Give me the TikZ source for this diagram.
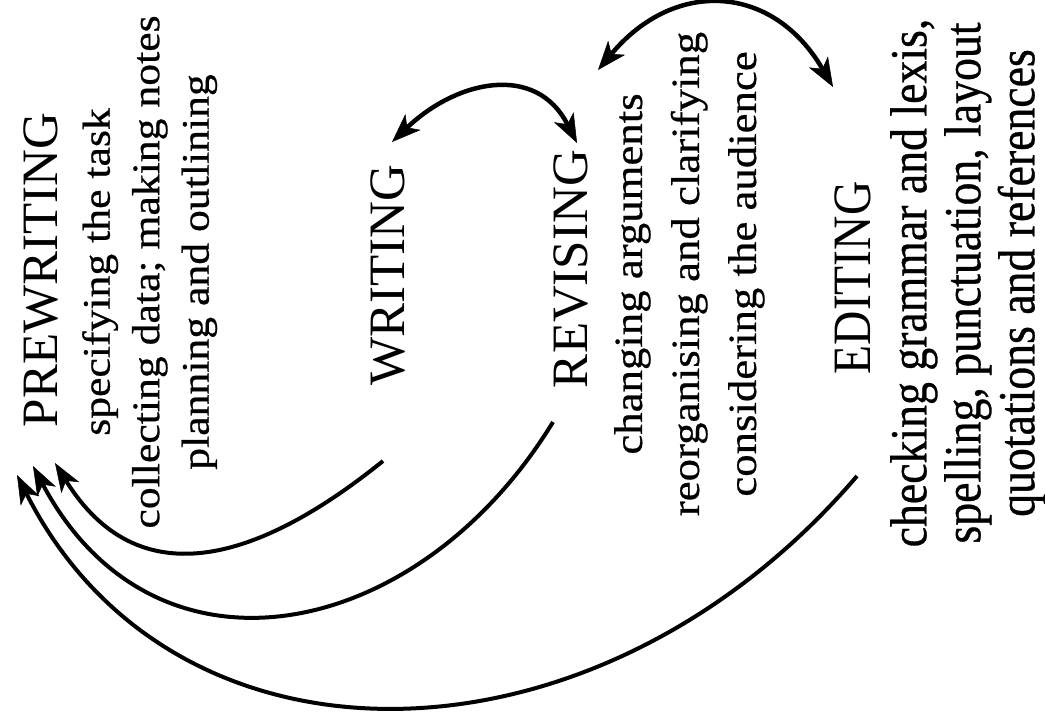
\documentclass[tikz,border=0pt]{standalone}
\usepackage{fontspec}
\setmainfont{Liberation Serif}
\newfontfamily\widefont[FakeStretch=1.12,FakeBold=0.6]{Liberation Serif}
\newfontfamily\narrowfont[FakeStretch=0.88,FakeBold=0.6]{Liberation Serif}
\newfontfamily\narrowheadfont[FakeStretch=0.88]{Liberation Serif}
\usetikzlibrary{arrows.meta}

\begin{document}
\begin{tikzpicture}[x=1pt,y=-1pt,
	stage/.style={rotate=90,anchor=north,inner sep=0pt,font=\fontsize{51}{56}\selectfont},
	notes/.style={rotate=90,anchor=north,inner sep=0pt,align=center},
	feedback/.style={line width=4pt,-{Stealth[length=29pt,width=21pt,inset=8pt,line width=0.5pt]}},
	exchange/.style={line width=4.5pt,{Stealth[length=29pt,width=22pt,inset=8pt,line width=0.5pt]}-{Stealth[length=29pt,width=22pt,inset=8pt,line width=0.5pt]}}]

	\useasboundingbox (0,0) rectangle (1045,713);

	% prewriting
	\node[stage] (prewriting) at (24,270) {PREWRITING};
	\node[notes,font=\widefont\fontsize{39}{49.5}\selectfont] (prewriting-notes) at (82,272)
		{specifying the task\\collecting data; making notes\\planning and outlining};

	% writing
	\node[stage] (writing) at (371,275) {WRITING};

	% revising
	\node[stage] (revising) at (554,269) {REVISING};
	\node[notes,font=\widefont\fontsize{40}{57}\selectfont] (revising-notes) at (614,274)
		{changing arguments\\reorganising and clarifying\\considering the audience};

	% editing
	\node[stage,font=\narrowheadfont\fontsize{54}{56}\selectfont] (editing) at (835,278) {EDITING};
	\node[notes,font=\narrowfont\fontsize{52}{54}\selectfont] (editing-notes) at (890,283)
		{checking grammar and lexis,\\spelling, punctuation, layout\\quotations and references};

	% ends of the arrows
	\coordinate (writing-out) at (383,461);
	\coordinate (revising-out) at (553,422);
	\coordinate (editing-out) at (857,476);
	\coordinate (prewriting-in1) at (55,463);
	\coordinate (prewriting-in2) at (33,466);
	\coordinate (prewriting-in3) at (17,475);
	\coordinate (writing-top) at (392,142);
	\coordinate (revising-top) at (577,143);
	\coordinate (revising-notes-top) at (598,70);
	\coordinate (editing-top) at (833,87);

	% back to prewriting
	\draw[feedback] (writing-out) .. controls +(-129,104) and +(82,132) .. (prewriting-in1);
	\draw[feedback] (revising-out) .. controls +(-135,221) and +(122,229) .. (prewriting-in2);
	\draw[feedback] (editing-out) .. controls +(-260,304) and +(158,312) .. (prewriting-in3);

	% to and fro
	\draw[exchange] (writing-top) .. controls +(65,-62) and +(-41,-80) .. (revising-top);
	\draw[exchange] (revising-notes-top) .. controls +(77,-92) and +(-60,-103) .. (editing-top);

\end{tikzpicture}
\end{document}
